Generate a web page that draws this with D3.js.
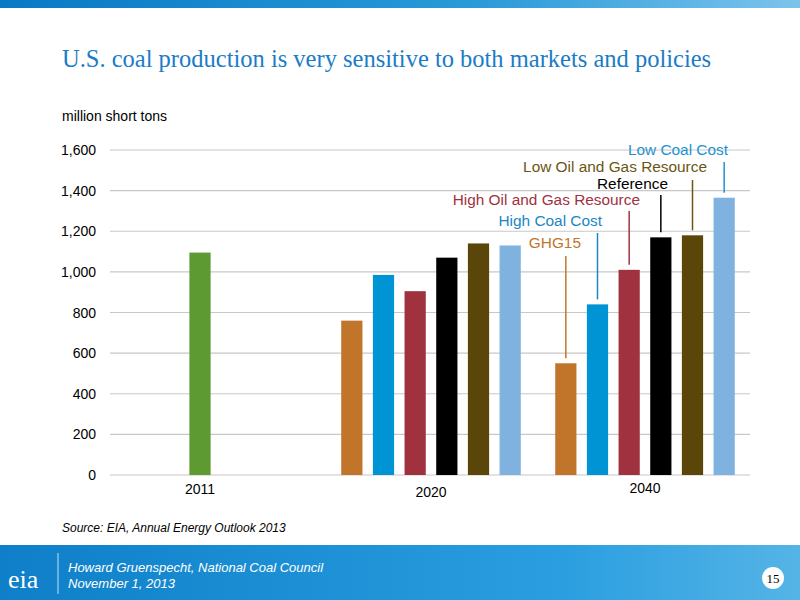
<!DOCTYPE html>
<html><head><meta charset="utf-8">
<script src="https://cdn.jsdelivr.net/npm/d3@7"></script>
<style>body{margin:0;background:#fff;font-family:"Liberation Sans",Arial,sans-serif}</style>
</head><body>
<div id="chart"></div>
<script>
// data
const years = ["2011", "2020", "2040"];
const series = ["GHG15", "High Coal Cost", "High Oil and Gas Resource", "Reference", "Low Oil and Gas Resource", "Low Coal Cost"];
const colors = ["#c0752b", "#0094d4", "#a0323f", "#000000", "#5a4608", "#7fb2de"];
const labelColors = ["#c0752b", "#1a86c4", "#a0323f", "#000000", "#6b5512", "#1e93d0"];
const value2011 = 1095;
const values2020 = [760, 985, 905, 1070, 1140, 1130];
const values2040 = [550, 840, 1010, 1170, 1180, 1365];
const yTicks = [0, 200, 400, 600, 800, 1000, 1200, 1400, 1600];

const width = 800, height = 600;
const svg = d3.select("#chart").append("svg").attr("width", width).attr("height", height);

// top band
const grad = svg.append("defs").append("linearGradient").attr("id", "band");
grad.append("stop").attr("offset", "0").attr("stop-color", "#0b78c4");
grad.append("stop").attr("offset", "0.6").attr("stop-color", "#2a9ad8");
grad.append("stop").attr("offset", "1").attr("stop-color", "#7cc4ec");
svg.append("rect").attr("x", 0).attr("y", 0).attr("width", width).attr("height", 8).attr("fill", "url(#band)");

svg.append("text").attr("x", 62).attr("y", 67)
  .attr("font-family", "Liberation Serif, serif").attr("font-size", 24.5).attr("fill", "#1a7cc6")
  .text("U.S. coal production is very sensitive to both markets and policies");
svg.append("text").attr("x", 62).attr("y", 121).attr("font-size", 14).text("million short tons");

const y = d3.scaleLinear().domain([0, 1600]).range([475, 150]);
const x0 = 110, x1 = 750;
const center = d3.scaleOrdinal().domain(years).range([200, 431, 645]);
const inner = d3.scaleBand().domain(d3.range(6)).range([-95, 95]).paddingInner(0.33).paddingOuter(0.165);

// gridlines
svg.append("g").selectAll("line").data(yTicks).join("line")
  .attr("x1", x0).attr("x2", x1).attr("y1", d => y(d)).attr("y2", d => y(d))
  .attr("stroke", "#c8c8c8").attr("stroke-width", 1.2);
svg.append("g").selectAll("text").data(yTicks).join("text")
  .attr("x", 96).attr("y", d => y(d) + 5).attr("text-anchor", "end").attr("font-size", 14)
  .text(d => d3.format(",")(d));

// bars
const bw = inner.bandwidth();
svg.append("rect").attr("x", center("2011") - bw / 2).attr("y", y(value2011))
  .attr("width", bw).attr("height", y(0) - y(value2011)).attr("fill", "#5e9a32");
[["2020", values2020], ["2040", values2040]].forEach(([yr, vals]) => {
  svg.append("g").selectAll("rect").data(vals).join("rect")
    .attr("x", (d, i) => center(yr) + inner(i)).attr("y", d => y(d))
    .attr("width", bw).attr("height", d => y(0) - y(d)).attr("fill", (d, i) => colors[i]);
});

// x labels
const xLabelY = {"2011": 494, "2020": 497, "2040": 493};
svg.append("g").selectAll("text").data(years).join("text")
  .attr("x", d => center(d)).attr("y", d => xLabelY[d]).attr("text-anchor", "middle").attr("font-size", 14)
  .text(d => d);

// callout labels for 2040 series
const labelY = [248, 226, 205, 189, 172, 155];
const labelEnd = [581, 602, 640, 668, 707, 728];
const lineTop = [256, 233, 211, 195, 180, 162];
series.forEach((s, i) => {
  const cx = center("2040") + inner(i) + bw / 2;
  svg.append("line").attr("x1", cx).attr("x2", cx).attr("y1", lineTop[i]).attr("y2", y(values2040[i]) - 5)
    .attr("stroke", labelColors[i]).attr("stroke-width", 1.5);
  svg.append("text").attr("x", labelEnd[i]).attr("y", labelY[i]).attr("text-anchor", "end")
    .attr("font-size", 15.4).attr("fill", labelColors[i]).text(s);
});

svg.append("text").attr("x", 62).attr("y", 532).attr("font-size", 12).attr("font-style", "italic")
  .text("Source:  EIA, Annual Energy Outlook 2013");

// footer
const fg = svg.select("defs").append("linearGradient").attr("id", "foot");
fg.append("stop").attr("offset", "0").attr("stop-color", "#0e7fc8");
fg.append("stop").attr("offset", "0.7").attr("stop-color", "#2a9ee0");
fg.append("stop").attr("offset", "1").attr("stop-color", "#55b4e6");
svg.append("rect").attr("x", 0).attr("y", 545).attr("width", width).attr("height", 55).attr("fill", "url(#foot)");
svg.append("text").attr("x", 8).attr("y", 588).attr("font-family", "Liberation Serif, serif")
  .attr("font-size", 26).attr("fill", "#fff").text("eia");
svg.append("line").attr("x1", 58).attr("x2", 58).attr("y1", 553).attr("y2", 594).attr("stroke", "#bfe0f5");
svg.append("text").attr("x", 68).attr("y", 572).attr("font-size", 13).attr("font-style", "italic").attr("fill", "#fff")
  .text("Howard Gruenspecht, National Coal Council");
svg.append("text").attr("x", 68).attr("y", 588).attr("font-size", 13).attr("font-style", "italic").attr("fill", "#fff")
  .text("November 1, 2013");
svg.append("circle").attr("cx", 773).attr("cy", 578).attr("r", 11).attr("fill", "#fff");
svg.append("text").attr("x", 773).attr("y", 583).attr("text-anchor", "middle").attr("font-family", "Liberation Serif, serif")
  .attr("font-size", 13).text("15");
</script>
</body></html>
